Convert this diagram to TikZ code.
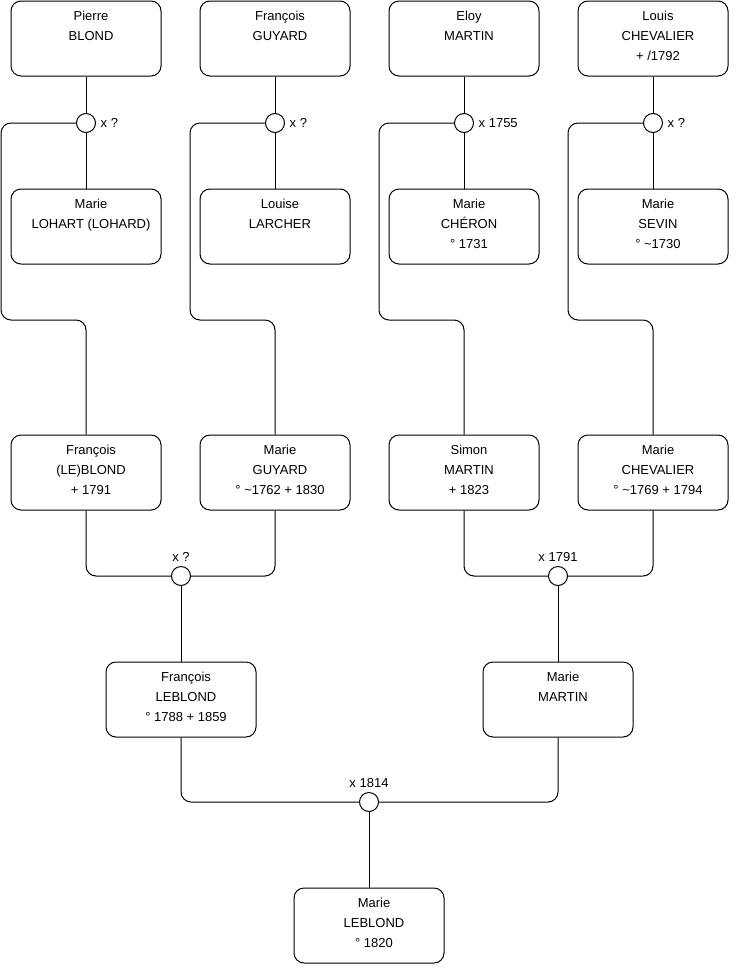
\documentclass[tikz,border=0pt]{standalone}
\usepackage{fontspec}
\setmainfont{Liberation Sans}
\newcommand\pers[4]{%
  \node[person] (#1) at (#2,#3+37.5) {};
  \node[ptext] (#1t) at (#2+5,#3+10) {#4};}
\begin{document}
\begin{tikzpicture}[x=1pt,y=-1pt,
  person/.style={draw, rounded corners=10pt, minimum width=150pt, minimum height=75pt, inner sep=0pt, line width=1pt},
  ptext/.style={anchor=north, align=center, inner sep=0pt, font=\fontsize{13}{20}\selectfont},
  wed/.style={draw, circle, minimum size=19pt, inner sep=0pt, line width=1pt, fill=white},
  wlabel/.style={font=\fontsize{13}{15}\selectfont, inner sep=0pt},
  link/.style={line width=1pt, rounded corners=10pt}]
\fill[white] (0,0) rectangle (740,975);
\useasboundingbox (0,0) rectangle (740,975);
% persons
\pers{pb}{86}{1}{Pierre\\BLOND}
\pers{fg}{275}{1}{François\\GUYARD}
\pers{em}{464}{1}{Eloy\\MARTIN}
\pers{lc}{653}{1}{Louis\\CHEVALIER\\+ /1792}
\pers{ml}{86}{189}{Marie\\LOHART (LOHARD)}
\pers{ll}{275}{189}{Louise\\LARCHER}
\pers{mc}{464}{189}{Marie\\CHÉRON\\° 1731}
\pers{ms}{653}{189}{Marie\\SEVIN\\° \textasciitilde1730}
\pers{fb}{86}{435}{François\\(LE)BLOND\\+ 1791}
\pers{mg}{275}{435}{Marie\\GUYARD\\° \textasciitilde1762 + 1830}
\pers{sm}{464}{435}{Simon\\MARTIN\\+ 1823}
\pers{mch}{653}{435}{Marie\\CHEVALIER\\° \textasciitilde1769 + 1794}
\pers{fl}{181}{662}{François\\LEBLOND\\° 1788 + 1859}
\pers{mm}{558}{662}{Marie\\MARTIN}
\pers{mlb}{369}{888}{Marie\\LEBLOND\\° 1820}
% bend points
\coordinate (k1) at (1,320);
\coordinate (k2) at (190,320);
\coordinate (k3) at (379,320);
\coordinate (k4) at (568,320);
% marriage circles
\node[wed] (w1) at (86,123) {};
\node[wed] (w2) at (275,123) {};
\node[wed] (w3) at (464,123) {};
\node[wed] (w4) at (653,123) {};
\node[wed] (w5) at (181,576) {};
\node[wed] (w6) at (558,576) {};
\node[wed] (w7) at (369,802) {};
% labels
\node[wlabel, anchor=west] (l1) at ([xshift=4.5pt]w1.east) {x ?};
\node[wlabel, anchor=west] (l2) at ([xshift=4.5pt]w2.east) {x ?};
\node[wlabel, anchor=west] (l3) at ([xshift=4.5pt]w3.east) {x 1755};
\node[wlabel, anchor=west] (l4) at ([xshift=4.5pt]w4.east) {x ?};
\node[wlabel, anchor=south] (l5) at ([yshift=4pt]w5.north) {x ?};
\node[wlabel, anchor=south] (l6) at ([yshift=4pt]w6.north) {x 1791};
\node[wlabel, anchor=south] (l7) at ([yshift=4pt]w7.north) {x 1814};
% connectors
\draw[link] (pb) -- (w1);
\draw[link] (fg) -- (w2);
\draw[link] (em) -- (w3);
\draw[link] (lc) -- (w4);
\draw[link] (w1) -- (ml);
\draw[link] (w2) -- (ll);
\draw[link] (w3) -- (mc);
\draw[link] (w4) -- (ms);
\draw[link] (w1.west) -| (k1) -| (fb.north);
\draw[link] (w2.west) -| (k2) -| (mg.north);
\draw[link] (w3.west) -| (k3) -| (sm.north);
\draw[link] (w4.west) -| (k4) -| (mch.north);
\draw[link] (fb.south) |- (w5.west);
\draw[link] (mg.south) |- (w5.east);
\draw[link] (w5) -- (fl);
\draw[link] (sm.south) |- (w6.west);
\draw[link] (mch.south) |- (w6.east);
\draw[link] (w6) -- (mm);
\draw[link] (fl.south) |- (w7.west);
\draw[link] (mm.south) |- (w7.east);
\draw[link] (w7) -- (mlb);
\end{tikzpicture}
\end{document}
